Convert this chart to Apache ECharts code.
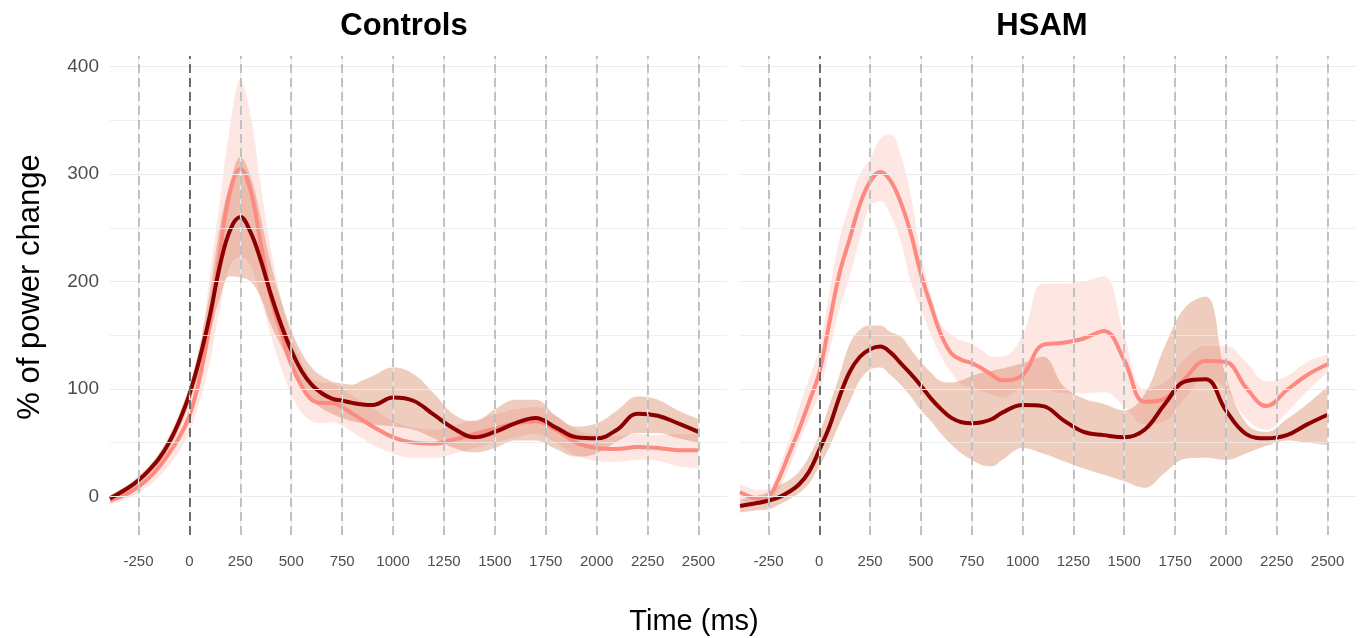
<!DOCTYPE html>
<html>
<head>
<meta charset="utf-8">
<title>Power change</title>
<script src="https://cdn.jsdelivr.net/npm/echarts@6/dist/echarts.min.js"></script>
<style>
  html, body { margin: 0; padding: 0; background: #fff; }
  #chart { width: 1367px; height: 638px; }
</style>
</head>
<body>
<div id="chart"></div>
<script>
// time points (ms), shared by every series
const times = [-390, -300, -250, -200, -150, -100, -50,
  0, 50, 100, 150, 200, 250, 300, 350, 400, 450, 500, 550, 600, 650, 700, 750, 800, 850, 900,
  1000, 1100, 1200, 1300, 1400, 1500, 1600, 1700, 1800, 1900, 2000, 2100, 2200, 2300, 2400, 2500]

// Controls panel
const ctrlDark = [-2, 8, 15, 24, 35, 50, 70,
  95, 128, 168, 215, 248, 260, 246, 220, 188, 160, 136, 117, 104, 96, 91, 89, 87, 85.5, 85,
  92, 89, 76, 63, 55, 60, 68, 73, 64, 55, 54, 62, 77, 75, 68, 60]
const ctrlDarkLo = [-5, 5, 11, 20, 30, 44, 63,
  87, 116, 150, 185, 205, 204, 200, 185, 160, 140, 120, 103, 90, 82, 77, 73, 70, 68, 67,
  65, 62, 54, 45, 41, 45, 52, 52, 44, 37, 40, 51, 59, 59, 54, 50]
const ctrlDarkHi = [1, 11, 19, 28, 40, 56, 77,
  103, 140, 190, 252, 292, 316, 298, 260, 216, 182, 155, 134, 120, 112, 107, 105, 104, 108, 112,
  120, 114, 96, 76, 70, 81, 90, 90, 75, 65, 68, 80, 93, 90, 80, 72]
const ctrlSalmon = [-4, 3, 9, 17, 27, 40, 55,
  75, 110, 160, 228, 284, 305, 285, 236, 185, 153, 123, 103, 90, 87, 87, 83, 77, 71, 65,
  55, 50, 49, 53, 58, 63, 68, 70, 62, 50, 45, 44, 46, 45, 43, 43]
const ctrlSalmonLo = [-8, -2, 3, 10, 18, 29, 42,
  60, 88, 125, 175, 215, 223, 215, 185, 150, 120, 95, 78, 70, 68, 69, 66, 60, 54, 48,
  40, 36, 36, 40, 45, 50, 55, 58, 50, 38, 33, 32, 34, 33, 28, 26]
const ctrlSalmonHi = [0, 8, 15, 24, 36, 51, 68,
  90, 135, 205, 275, 345, 388, 355, 290, 230, 185, 150, 126, 110, 106, 105, 100, 94, 88, 82,
  70, 64, 62, 66, 71, 76, 81, 83, 75, 62, 57, 56, 58, 57, 58, 58]

// HSAM panel
const hsamDark = [-9, -6, -4, -1, 4, 11, 23,
  43, 65, 93, 116, 130, 137, 139.5, 134, 124, 114, 103, 91, 81, 73, 69, 68, 69, 72, 78,
  85, 84, 71, 60, 57, 55, 62, 86, 107, 109, 80, 58, 54, 57, 67, 76]
const hsamDarkLo = [-15, -13, -12, -8, -3, 3, 12,
  28, 46, 68, 88, 108, 118, 120, 113, 104, 93, 80, 70, 58, 48, 40, 34, 29, 28, 34,
  45, 40, 33, 26, 20, 14, 8, 22, 35, 36, 34, 40, 47, 52, 50, 48]
const hsamDarkHi = [-3, 1, 4, 10, 15, 23, 37,
  58, 85, 113, 142, 155, 159, 159, 153, 149, 137, 125, 115, 107, 106, 108, 112, 115, 117, 119,
  124, 130, 103, 91, 86, 80, 95, 140, 176, 186, 112, 68, 60, 72, 86, 102]
const hsamSalmon = [4, -2, 0, 16, 39, 62, 88,
  115, 162, 208, 240, 272, 293, 302, 294, 274, 245, 207, 177, 150, 133, 127, 124, 119, 113, 108,
  113, 141, 143, 147, 154, 127, 88, 91, 110, 126, 125, 101, 84, 99, 113, 123]
const hsamSalmonLo = [-3, -8, -6, 6, 26, 50, 72,
  95, 135, 175, 205, 240, 270, 275, 262, 238, 200, 175, 150, 130, 115, 104, 102, 98, 95, 92,
  100, 100, 96, 96, 97, 84, 67, 70, 92, 110, 100, 72, 62, 78, 98, 115]
const hsamSalmonHi = [12, 6, 7, 26, 52, 82, 110,
  138, 190, 240, 272, 300, 314, 333, 337, 318, 280, 225, 188, 160, 150, 145, 142, 136, 130, 130,
  150, 198, 198, 200, 205, 150, 100, 106, 128, 140, 140, 125, 107, 112, 125, 132]

// axis ticks
const xTicks = [-250, 0, 250, 500, 750, 1000, 1250, 1500, 1750, 2000, 2250, 2500]
const yTicks = [0, 100, 200, 300, 400]
const yGrid = [0, 50, 100, 150, 200, 250, 300, 350, 400]

const panels = ['Controls', 'HSAM']

const FONT = '"Liberation Sans", Arial, Helvetica, sans-serif'
const DARK = '#8B0000'
const SALMON = '#FC8A80'
const PINK_FILL = 'rgba(250, 128, 114, 0.2)'
const TAN_FILL = 'rgba(205, 110, 70, 0.35)'

function pairs (vals) {
  return times.map((t, i) => [t, vals[i]])
}
// value first so that the stack runs on the y values (x is a value axis too)
function flipped (vals) {
  return times.map((t, i) => [vals[i], t])
}
function diff (hi, lo) {
  return hi.map((v, i) => v - lo[i])
}

// grid lines and the dashed event markers, drawn under the data
function gridLines () {
  const data = []
  yGrid.forEach(v => {
    data.push({ yAxis: v, lineStyle: { color: '#EBEBEB', width: v % 100 === 0 ? 1.2 : 0.8, type: 'solid' } })
  })
  xTicks.forEach(v => {
    data.push({ xAxis: v, lineStyle: { color: '#EBEBEB', width: 1.2, type: 'solid' } })
  })
  xTicks.forEach(v => {
    data.push({ xAxis: v, lineStyle: { color: v === 0 ? '#5E5E5E' : '#BDBDBD', width: 1.8, type: [9, 5] } })
  })
  return {
    silent: true,
    symbol: ['none', 'none'],
    label: { show: false },
    emphasis: { disabled: true },
    animation: false,
    data: data
  }
}

function band (gi, name, lo, hi, fill, withGrid) {
  const common = {
    type: 'line',
    xAxisIndex: gi,
    yAxisIndex: gi,
    stack: name + gi,
    stackStrategy: 'all',
    encode: { x: 1, y: 0 },
    smooth: 0.4,
    showSymbol: false,
    silent: true,
    lineStyle: { width: 0, opacity: 0 }
  }
  const base = Object.assign({ name: name + '-lo', data: flipped(lo) }, common)
  if (withGrid) base.markLine = gridLines()
  const top = Object.assign({
    name: name + '-hi',
    areaStyle: { color: fill, opacity: 1 },
    data: flipped(diff(hi, lo))
  }, common)
  return [base, top]
}

function meanLine (gi, name, vals, color) {
  return {
    name: name,
    type: 'line',
    xAxisIndex: gi,
    yAxisIndex: gi,
    smooth: 0.4,
    showSymbol: false,
    silent: true,
    lineStyle: { color: color, width: 4 },
    data: pairs(vals)
  }
}

const panelData = [
  { dark: ctrlDark, darkLo: ctrlDarkLo, darkHi: ctrlDarkHi, salmon: ctrlSalmon, salmonLo: ctrlSalmonLo, salmonHi: ctrlSalmonHi },
  { dark: hsamDark, darkLo: hsamDarkLo, darkHi: hsamDarkHi, salmon: hsamSalmon, salmonLo: hsamSalmonLo, salmonHi: hsamSalmonHi }
]

const series = []
panelData.forEach((p, gi) => {
  series.push(...band(gi, 'pink', p.salmonLo, p.salmonHi, PINK_FILL, true))
  series.push(meanLine(gi, 'salmon', p.salmon, SALMON))
  series.push(...band(gi, 'tan', p.darkLo, p.darkHi, TAN_FILL, false))
  series.push(meanLine(gi, 'dark', p.dark, DARK))
})

const grids = [
  { left: 110, top: 56, width: 617, height: 479, containLabel: false, outerBoundsMode: 'none' },
  { left: 740, top: 56, width: 616, height: 479, containLabel: false, outerBoundsMode: 'none' }
]

const xAxes = grids.map((g, gi) => ({
  type: 'value',
  gridIndex: gi,
  min: -390,
  max: 2640,
  axisLine: { show: false },
  axisTick: { show: false },
  splitLine: { show: false },
  axisLabel: {
    customValues: xTicks,
    formatter: v => String(v),
    color: '#4D4D4D',
    fontSize: 15,
    fontFamily: FONT,
    margin: 19
  }
}))

const yAxes = grids.map((g, gi) => ({
  type: 'value',
  gridIndex: gi,
  min: -36,
  max: 410,
  axisLine: { show: false },
  axisTick: { show: false },
  splitLine: { show: false },
  axisLabel: {
    show: gi === 0,
    customValues: yTicks,
    formatter: v => String(v),
    color: '#4D4D4D',
    fontSize: 19,
    fontFamily: FONT,
    margin: 11
  }
}))

const titleX = [404, 1042]

const chart = echarts.init(document.getElementById('chart'), null, { renderer: 'canvas' })
chart.setOption({
  backgroundColor: '#ffffff',
  animation: false,
  grid: grids,
  xAxis: xAxes,
  yAxis: yAxes,
  series: series,
  graphic: [
    ...panels.map((name, i) => ({
      type: 'text',
      x: titleX[i],
      y: 26,
      style: {
        text: name,
        font: 'bold 31px ' + FONT,
        fill: '#000000',
        textAlign: 'center',
        textVerticalAlign: 'middle',
        align: 'center',
        verticalAlign: 'middle'
      }
    })),
    {
      type: 'text',
      x: 694,
      y: 622,
      style: {
        text: 'Time (ms)',
        font: '29px ' + FONT,
        fill: '#000000',
        textAlign: 'center',
        textVerticalAlign: 'middle',
        align: 'center',
        verticalAlign: 'middle'
      }
    },
    {
      type: 'text',
      x: 30,
      y: 287,
      rotation: Math.PI / 2,
      style: {
        text: '% of power change',
        font: '31px ' + FONT,
        fill: '#000000',
        textAlign: 'center',
        textVerticalAlign: 'middle',
        align: 'center',
        verticalAlign: 'middle'
      }
    }
  ]
})
</script>
</body>
</html>
